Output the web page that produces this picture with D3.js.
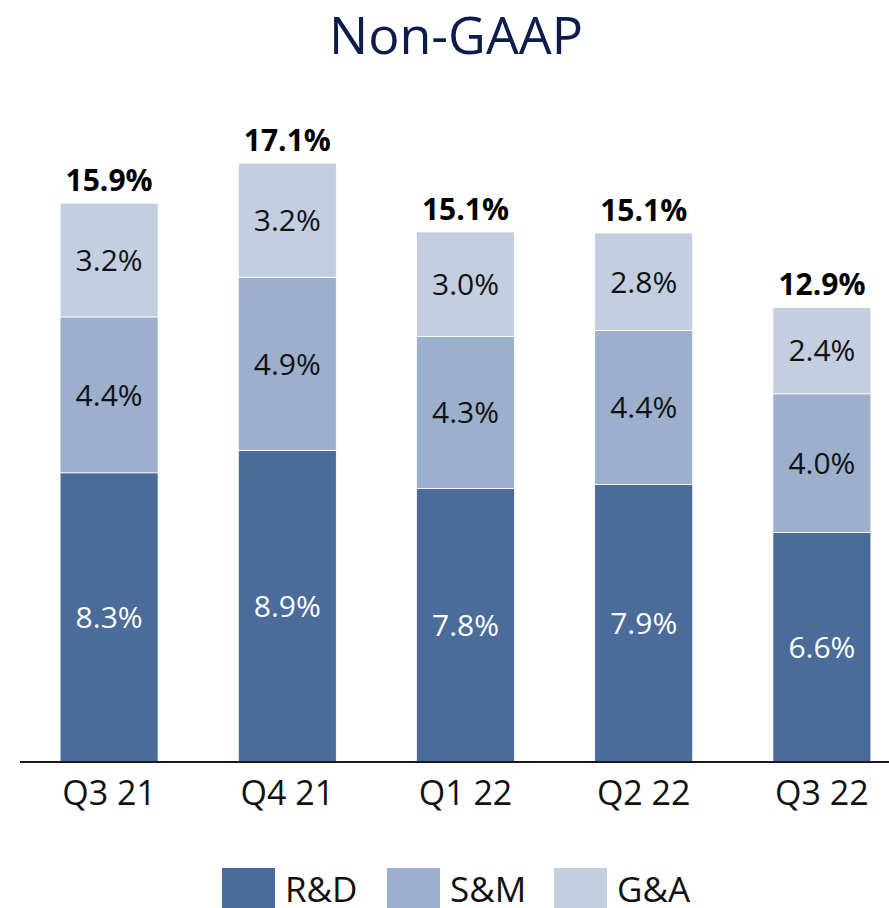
<!DOCTYPE html>
<html>
<head>
<meta charset="utf-8">
<script src="https://cdn.jsdelivr.net/npm/d3@7"></script>
<style>
  html, body { margin: 0; padding: 0; background: #fff; }
  svg { display: block; font-family: "Open Sans", "Noto Sans", sans-serif; }
</style>
</head>
<body>
<svg id="chart" width="889" height="908"></svg>
<script>
// ---- data ----
const categories = ["Q3 21", "Q4 21", "Q1 22", "Q2 22", "Q3 22"];
const seriesNames = ["R&D", "S&M", "G&A"];
const rdValues = [8.24, 8.88, 7.79, 7.91, 6.54];
const smValues = [4.44, 4.93, 4.33, 4.38, 3.95];
const gaValues = [3.24, 3.25, 2.98, 2.78, 2.46];
const rdLabels = ["8.3%", "8.9%", "7.8%", "7.9%", "6.6%"];
const smLabels = ["4.4%", "4.9%", "4.3%", "4.4%", "4.0%"];
const gaLabels = ["3.2%", "3.2%", "3.0%", "2.8%", "2.4%"];
const totalLabels = ["15.9%", "17.1%", "15.1%", "15.1%", "12.9%"];
const colors = ["#4b6b9b", "#9cafcd", "#c3cee1"];
const textColors = ["#ffffff", "#111111", "#111111"];

const svg = d3.select("#chart");
const W = 889;

// title
svg.append("text")
  .attr("x", 456).attr("y", 54)
  .attr("text-anchor", "middle")
  .attr("font-size", 52)
  .attr("fill", "#0c1c4c")
  .text("Non-GAAP");

const baseY = 762;
const x = d3.scaleBand()
  .domain(categories)
  .range([20, 911])
  .paddingInner(0.45)
  .paddingOuter(0.225);
const y = d3.scaleLinear().domain([0, 20]).range([baseY, baseY - 702]);

const table = categories.map((c, i) => ({
  cat: c, "R&D": rdValues[i], "S&M": smValues[i], "G&A": gaValues[i], i
}));
const labelSets = [rdLabels, smLabels, gaLabels];
const stack = d3.stack().keys(seriesNames)(table);

const layers = svg.append("g").selectAll("g")
  .data(stack).join("g")
  .attr("fill", (d, k) => colors[k]);

layers.selectAll("rect")
  .data(d => d).join("rect")
  .attr("x", d => x(d.data.cat))
  .attr("width", x.bandwidth())
  .attr("y", d => y(d[1]))
  .attr("height", d => y(d[0]) - y(d[1]))
  .attr("stroke", "#ffffff")
  .attr("stroke-width", 0.8);

stack.forEach((layer, k) => {
  svg.append("g").selectAll("text")
    .data(layer).join("text")
    .attr("x", d => x(d.data.cat) + x.bandwidth() / 2)
    .attr("y", d => (y(d[0]) + y(d[1])) / 2)
    .attr("dy", "0.36em")
    .attr("text-anchor", "middle")
    .attr("font-size", 30)
    .attr("fill", textColors[k])
    .text(d => labelSets[k][d.data.i]);
});

// totals
const topLayer = stack[stack.length - 1];
svg.append("g").selectAll("text")
  .data(topLayer).join("text")
  .attr("x", d => x(d.data.cat) + x.bandwidth() / 2)
  .attr("y", d => y(d[1]) - 12)
  .attr("text-anchor", "middle")
  .attr("font-size", 30)
  .attr("font-weight", "bold")
  .attr("fill", "#000")
  .text(d => totalLabels[d.data.i]);

// axis
const axis = svg.append("g").attr("transform", `translate(0,${baseY})`)
  .call(d3.axisBottom(x).tickSize(0).tickPadding(19));
axis.select(".domain").remove();
axis.selectAll("text")
  .attr("font-size", 34)
  .attr("font-family", "'Open Sans', 'Noto Sans', sans-serif")
  .attr("fill", "#111");
svg.append("line")
  .attr("x1", 20).attr("x2", W)
  .attr("y1", baseY).attr("y2", baseY)
  .attr("stroke", "#1a1a1a").attr("stroke-width", 2);

// legend
const legendX = [222, 387, 554];
const leg = svg.append("g");
seriesNames.forEach((name, k) => {
  leg.append("rect")
    .attr("x", legendX[k]).attr("y", 868)
    .attr("width", 53).attr("height", 42)
    .attr("fill", colors[k]);
  leg.append("text")
    .attr("x", legendX[k] + 63).attr("y", 902)
    .attr("font-size", 35)
    .attr("fill", "#111")
    .text(name);
});
</script>
</body>
</html>
